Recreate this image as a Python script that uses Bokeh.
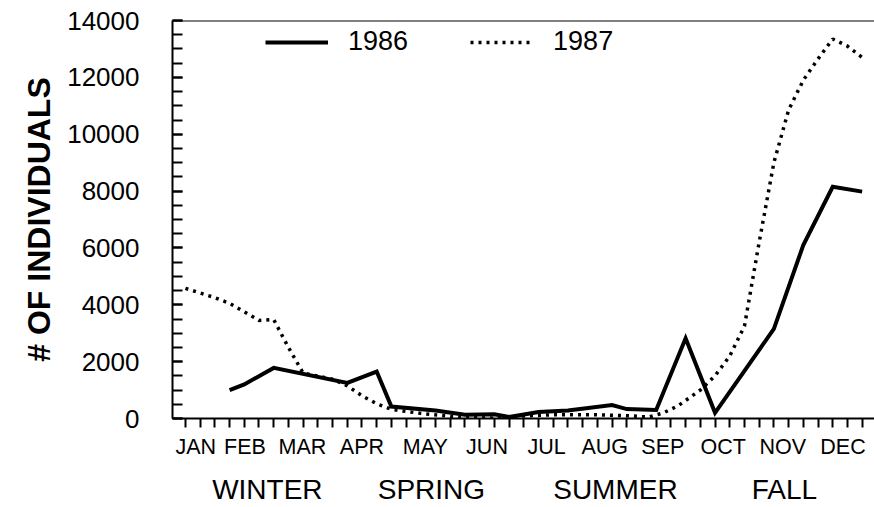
from bokeh.plotting import figure
from bokeh.models import (Range1d, FixedTicker, SingleIntervalTicker, LinearAxis,
                          Legend, LegendItem, Span)
from bokeh.embed import file_html
from bokeh.resources import INLINE

# ---- data (x in sampling-week units, 0 = first tick of January) ----
week_1986 = [3, 4, 6, 11, 13, 14, 17, 19, 21, 22, 24, 26, 29, 30, 32, 34, 36, 40, 42, 44, 46]
n_1986 = [1000, 1200, 1780, 1250, 1650, 420, 280, 130, 150, 50, 230, 280, 470, 330, 300,
          2820, 200, 3150, 6100, 8150, 7980]

week_1987 = [0, 2, 3, 5, 6, 7, 8, 10, 11, 12, 13, 14, 16, 18, 19, 21, 23, 25, 28, 30,
             31.5, 32.5, 33.5, 35, 36, 37, 38, 39, 40, 41, 42, 43, 44, 45, 46]
n_1987 = [4580, 4250, 4050, 3450, 3480, 2500, 1600, 1380, 1150, 800, 520, 320, 180, 80, 40,
          10, 90, 130, 130, 100, 50, 200, 450, 1000, 1500, 2200, 3250, 6200, 9000, 10850,
          11900, 12650, 13350, 13100, 12700]

tick_weeks = list(range(0, 47))
month_labels = ["JAN", "FEB", "MAR", "APR", "MAY", "JUN", "JUL", "AUG", "SEP", "OCT", "NOV", "DEC"]
month_pos = [0.7, 4.05, 7.95, 12.0, 16.3, 20.5, 24.55, 28.5, 32.45, 36.55, 40.6, 44.7]
season_labels = ["WINTER", "SPRING", "SUMMER", "FALL"]
season_pos = [5.57, 16.72, 29.23, 40.72]

FONT = "Liberation Sans"

p = figure(width=874, height=507, output_backend="svg", toolbar_location=None,
           x_range=Range1d(-0.88, 46.84), y_range=Range1d(0, 14000),
           x_axis_type=None, y_axis_type=None,
           min_border_left=172, min_border_right=0, min_border_top=20, min_border_bottom=0)
p.outline_line_color = None
p.background_fill_color = "white"
p.border_fill_color = "white"

# y axis
yaxis = LinearAxis(ticker=SingleIntervalTicker(interval=2000, num_minor_ticks=4),
                   axis_label="# OF INDIVIDUALS")
yaxis.axis_line_width = 2
yaxis.axis_line_color = "black"
yaxis.major_tick_in = 10
yaxis.major_tick_out = 0
yaxis.minor_tick_in = 10
yaxis.minor_tick_out = 0
yaxis.major_tick_line_width = 2
yaxis.minor_tick_line_width = 2
yaxis.major_tick_line_color = "black"
yaxis.minor_tick_line_color = "black"
yaxis.major_label_standoff = 33
yaxis.major_label_text_font = FONT
yaxis.major_label_text_font_size = "26px"
yaxis.major_label_text_color = "black"
yaxis.axis_label_text_font = FONT
yaxis.axis_label_text_font_size = "32px"
yaxis.axis_label_text_font_style = "bold"
yaxis.axis_label_text_color = "black"
yaxis.axis_label_standoff = 7
p.add_layout(yaxis, "left")

# x axis: weekly ticks, month labels
xaxis = LinearAxis(ticker=FixedTicker(ticks=month_pos, minor_ticks=tick_weeks),
                   major_label_overrides={pos: lab for pos, lab in zip(month_pos, month_labels)})
xaxis.axis_line_width = 2
xaxis.axis_line_color = "black"
xaxis.major_tick_in = 0
xaxis.major_tick_out = 0
xaxis.major_tick_line_color = None
xaxis.minor_tick_in = 0
xaxis.minor_tick_out = 9
xaxis.minor_tick_line_width = 2
xaxis.minor_tick_line_color = "black"
xaxis.major_label_standoff = 7
xaxis.major_label_text_font = FONT
xaxis.major_label_text_font_size = "21.5px"
xaxis.major_label_text_color = "black"
p.add_layout(xaxis, "below")

# season axis
saxis = LinearAxis(ticker=FixedTicker(ticks=season_pos, minor_ticks=[]),
                   major_label_overrides={pos: lab for pos, lab in zip(season_pos, season_labels)})
saxis.axis_line_color = None
saxis.major_tick_line_color = None
saxis.minor_tick_line_color = None
saxis.major_tick_in = 0
saxis.major_tick_out = 0
saxis.major_label_standoff = 12
saxis.major_label_text_font = FONT
saxis.major_label_text_font_size = "28px"
saxis.major_label_text_color = "black"
p.add_layout(saxis, "below")

p.add_layout(Span(location=14000, dimension="width", line_color="black", line_width=2))

r86 = p.line(week_1986, n_1986, line_color="black", line_width=4, line_join="miter")
r87 = p.line(week_1987, n_1987, line_color="black", line_width=3.5, line_dash="3 5")

legend = Legend(items=[LegendItem(label="1986", renderers=[r86]),
                       LegendItem(label="1987", renderers=[r87])],
                orientation="horizontal", location=(93, 361),
                glyph_width=63, glyph_height=20, label_standoff=20, spacing=62,
                padding=0, margin=0, border_line_color=None, background_fill_alpha=0,
                label_text_font=FONT, label_text_font_size="27px", label_text_color="black")
p.add_layout(legend, "center")

open("out.html", "w").write(file_html(p, INLINE))
